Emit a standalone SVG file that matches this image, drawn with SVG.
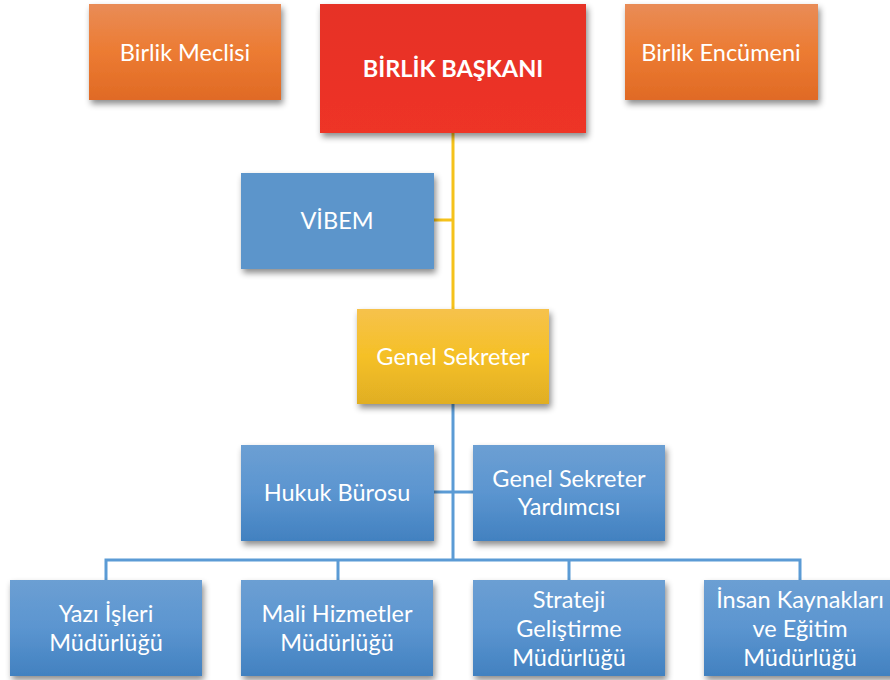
<svg xmlns="http://www.w3.org/2000/svg" width="890" height="680" viewBox="0 0 890 680">
<defs>
<linearGradient id="gOrange" x1="0" y1="0" x2="0" y2="1"><stop offset="0" stop-color="#E98C57"/><stop offset="0.5" stop-color="#EC7B32"/><stop offset="1" stop-color="#E06A25"/></linearGradient>
<linearGradient id="gRed" x1="0" y1="0" x2="0" y2="1"><stop offset="0" stop-color="#E63027"/><stop offset="1" stop-color="#EE3428"/></linearGradient>
<linearGradient id="gYellow" x1="0" y1="0" x2="0" y2="1"><stop offset="0" stop-color="#F6C24C"/><stop offset="0.5" stop-color="#F5C026"/><stop offset="1" stop-color="#E0AE24"/></linearGradient>
<linearGradient id="gBlue" x1="0" y1="0" x2="0" y2="1"><stop offset="0" stop-color="#6C9FD3"/><stop offset="0.5" stop-color="#5B95D0"/><stop offset="1" stop-color="#4281C0"/></linearGradient>
<filter id="shadow" x="-10%" y="-10%" width="125%" height="130%"><feDropShadow dx="2" dy="4" stdDeviation="3" flood-color="#000" flood-opacity="0.45"/></filter>
</defs>
<style>
.box{filter:url(#shadow);}
.t{font-family:Lato,"Liberation Sans",sans-serif;font-size:23.5px;fill:#fff;text-anchor:middle;}
.b{font-weight:bold;font-size:23.5px;}
.yl{stroke:#F5C21B;stroke-width:3;fill:none;}
.bl{stroke:#5B9BD5;stroke-width:3;fill:none;}
</style>
<g id="connectors">
<path class="yl" d="M453 133 V309 M434 220 H453"/>
<path class="bl" d="M453 404 V560 M434 492 H473 M106 580 V560 H800 V580 M338 560 V580 M569 560 V580"/>
</g>
<g id="birlik-meclisi"><rect class="box" x="89" y="4" width="192" height="96" fill="url(#gOrange)"/><text class="t" x="185" y="61">Birlik Meclisi</text></g>
<g id="birlik-baskani"><rect class="box" x="320" y="4" width="266" height="129" fill="url(#gRed)"/><text class="t b" x="453" y="77">BİRLİK BAŞKANI</text></g>
<g id="birlik-encumeni"><rect class="box" x="625" y="4" width="193" height="96" fill="url(#gOrange)"/><text class="t" x="721" y="61">Birlik Encümeni</text></g>
<g id="vibem"><rect class="box" x="241" y="173" width="193" height="96" fill="#5B95CB"/><text class="t" x="337" y="229">VİBEM</text></g>
<g id="genel-sekreter"><rect class="box" x="357" y="309" width="192" height="95" fill="url(#gYellow)"/><text class="t" x="453" y="365">Genel Sekreter</text></g>
<g id="hukuk-burosu"><rect class="box" x="241" y="445" width="193" height="96" fill="url(#gBlue)"/><text class="t" x="337" y="501">Hukuk Bürosu</text></g>
<g id="genel-sekreter-yardimcisi"><rect class="box" x="473" y="445" width="192" height="96" fill="url(#gBlue)"/><text class="t" x="569" y="487">Genel Sekreter</text><text class="t" x="569" y="515">Yardımcısı</text></g>
<g id="yazi-isleri"><rect class="box" x="10" y="580" width="192" height="96" fill="url(#gBlue)"/><text class="t" x="106" y="622">Yazı İşleri</text><text class="t" x="106" y="651">Müdürlüğü</text></g>
<g id="mali-hizmetler"><rect class="box" x="241" y="580" width="192" height="96" fill="url(#gBlue)"/><text class="t" x="337" y="622">Mali Hizmetler</text><text class="t" x="337" y="651">Müdürlüğü</text></g>
<g id="strateji"><rect class="box" x="473" y="580" width="192" height="96" fill="url(#gBlue)"/><text class="t" x="569" y="608">Strateji</text><text class="t" x="569" y="637">Geliştirme</text><text class="t" x="569" y="666">Müdürlüğü</text></g>
<g id="insan-kaynaklari"><rect class="box" x="704" y="580" width="192" height="96" fill="url(#gBlue)"/><text class="t" x="800" y="608">İnsan Kaynakları</text><text class="t" x="800" y="637">ve Eğitim</text><text class="t" x="800" y="666">Müdürlüğü</text></g>
</svg>
